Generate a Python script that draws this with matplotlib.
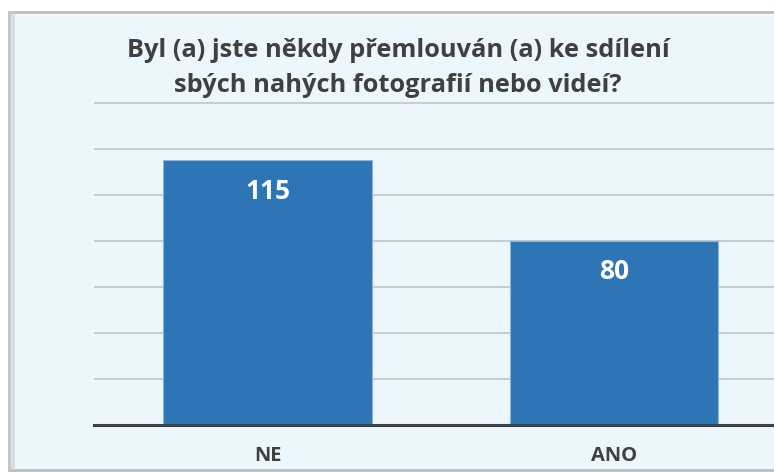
import matplotlib
matplotlib.use("Agg")
import matplotlib.pyplot as plt
from matplotlib.patches import Rectangle

categories = ["NE", "ANO"]
values = [115, 80]
title = "Byl (a) jste někdy přemlouván (a) ke sdílení\nsbých nahých fotografií nebo videí?"

W, H = 774, 472
fig = plt.figure(figsize=(W / 100, H / 100), dpi=100)
fig.patch.set_facecolor("white")

# panel background with border
panel = Rectangle((9 / W, 2 / H), 1.0, (458) / H, transform=fig.transFigure,
                  facecolor="#EBF7FD", edgecolor="#BDBDBD", linewidth=2.0, zorder=-3)
fig.patches.append(panel)
shade = Rectangle((9 / W, 2 / H), 6 / W, 458 / H, transform=fig.transFigure,
                  facecolor="#C9D3D9", edgecolor="none", zorder=-2, alpha=0.6)
fig.patches.append(shade)

# axes geometry (pixels)
base_y = 424.5
top140 = 102.5
ppu = (base_y - top140) / 140
ymax = 142
top_y = base_y - ymax * ppu
left_px = 94.25
cat_w = 346.5
right_px = left_px + 2 * cat_w
ax = fig.add_axes([left_px / W, (H - base_y) / H, (right_px - left_px) / W, (base_y - top_y) / H])
ax.set_facecolor("none")

x = list(range(len(categories)))
bars = ax.bar(x, values, width=0.603, color="#2E75B6", edgecolor="#8FB4D9", linewidth=0.8, zorder=3)
ax.set_xlim(-0.5, len(categories) - 0.5)
ax.set_ylim(0, ymax)
ax.set_yticks(range(0, 141, 20))
ax.yaxis.grid(True, color="#C8CDD0", linewidth=1.5, zorder=0)
ax.set_axisbelow(True)
ax.tick_params(axis="y", left=False, labelleft=False)
ax.tick_params(axis="x", bottom=False, pad=12)
ax.set_xticks(x)
ax.set_xticklabels(categories, fontsize=14.5, fontweight="bold", color="#404040", family="Open Sans")
for s in ["top", "right", "left"]:
    ax.spines[s].set_visible(False)
ax.spines["bottom"].set_color("#404040")
ax.spines["bottom"].set_linewidth(2.2)
ax.spines["bottom"].set_zorder(4)

for xi, v in zip(x, values):
    ax.text(xi, v - 13.5, str(v), ha="center", va="center", color="white",
            fontsize=19, fontweight="bold", family="Open Sans", zorder=5)

fig.text(398 / W, (H - 68) / H, title, ha="center", va="center", fontsize=18.3,
         fontweight="bold", color="#404040", family="Open Sans", linespacing=1.55)

fig.savefig("out.png", dpi=100)
